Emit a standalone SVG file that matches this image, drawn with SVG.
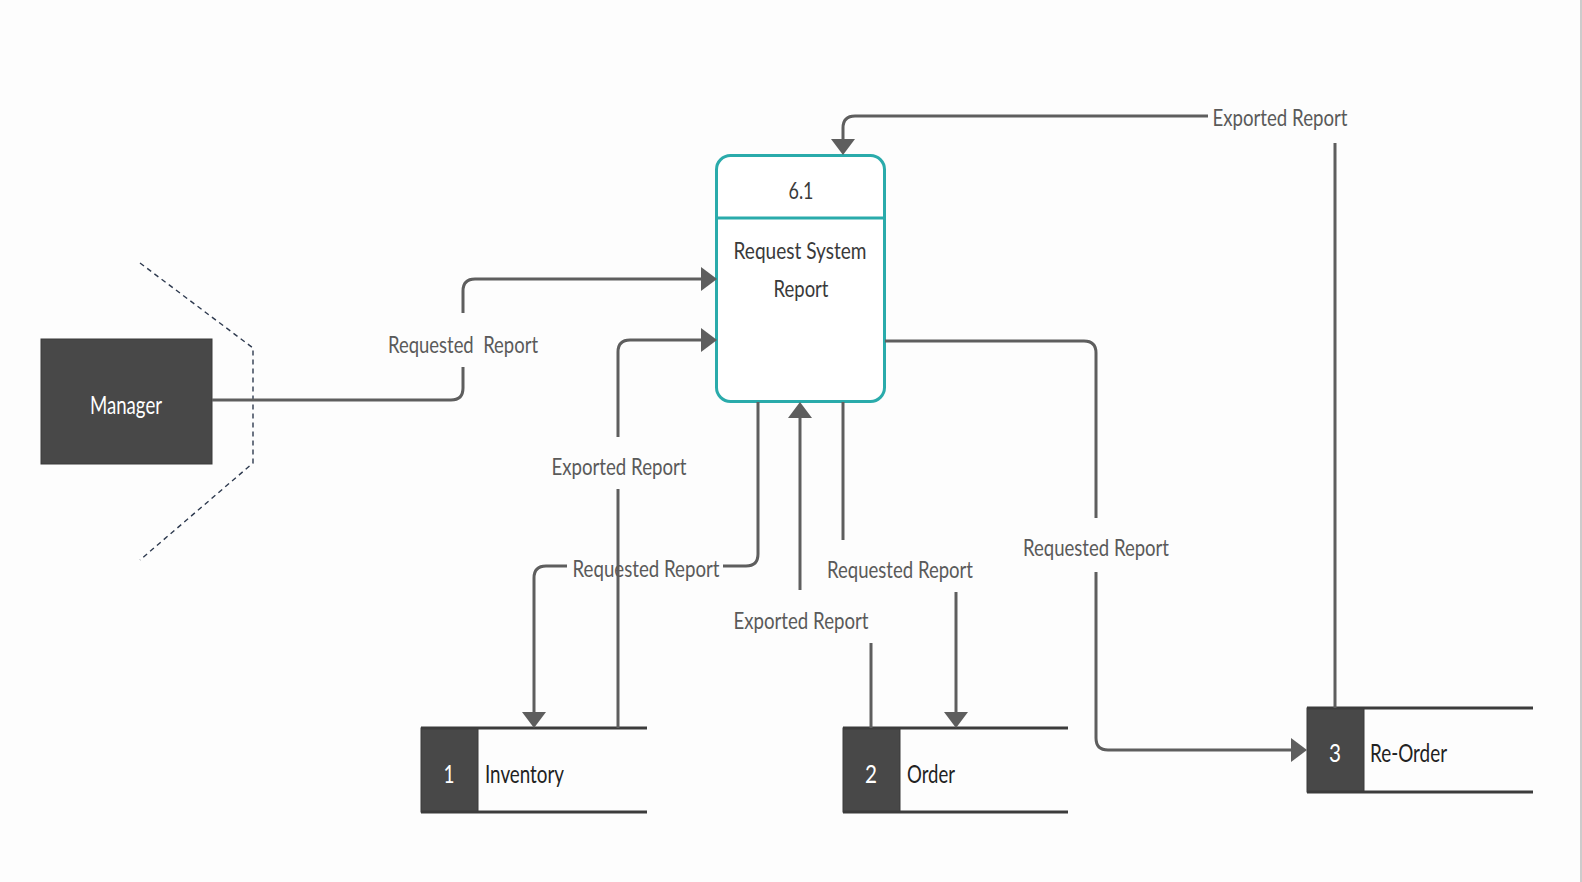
<svg xmlns="http://www.w3.org/2000/svg" width="1582" height="882" viewBox="0 0 1582 882">
<defs>
<style>
.bg{fill:#fdfdfd}
.conn{fill:none;stroke:#5e5e5e;stroke-width:3}
.lbl{font-family:Lato,"Open Sans","Liberation Sans",sans-serif;font-size:24px;fill:#5a5a5a;text-anchor:middle}
.ptxt{font-family:Lato,"Open Sans","Liberation Sans",sans-serif;font-size:24px;fill:#3a3a3a;text-anchor:middle}
.dark{fill:#484848;stroke:#3a3a3a;stroke-width:1}
.wtxt{font-family:Lato,"Open Sans","Liberation Sans",sans-serif;font-size:25px;fill:#ffffff;text-anchor:middle}
.stxt{font-family:Lato,"Open Sans","Liberation Sans",sans-serif;font-size:25px;fill:#222222}
.sline{stroke:#3c3c3c;stroke-width:3}
</style>
<marker id="arr" markerUnits="userSpaceOnUse" markerWidth="18" markerHeight="26" refX="0" refY="12" orient="auto" overflow="visible">
<path d="M0,0 L16,12 L0,24 Z" fill="#5e5e5e"/>
</marker>
</defs>
<rect class="bg" x="0" y="0" width="1582" height="882"/>
<rect x="1580" y="0" width="2" height="882" fill="#cccccc"/>

<g id="manager">
<rect class="dark" x="41" y="339" width="171" height="125"/>
<text class="wtxt" x="126" y="414" textLength="72" lengthAdjust="spacingAndGlyphs">Manager</text>
<polyline points="140,263 253,348 253,463 140,560" fill="none" stroke="#2e3a4f" stroke-width="1.4" stroke-dasharray="5,4"/>
</g>

<g id="process-6-1">
<rect x="716.5" y="155.5" width="168" height="246" rx="14" fill="#ffffff" stroke="#2aabab" stroke-width="3"/>
<line x1="716.5" y1="218" x2="884.5" y2="218" stroke="#2aabab" stroke-width="3"/>
<text class="ptxt" x="801" y="199" font-size="23" textLength="25" lengthAdjust="spacingAndGlyphs">6.1</text>
<text class="ptxt" x="800" y="259" textLength="133" lengthAdjust="spacingAndGlyphs">Request System</text>
<text class="ptxt" x="801" y="297" textLength="55" lengthAdjust="spacingAndGlyphs">Report</text>
</g>

<g id="store-1">
<rect class="dark" x="421" y="728" width="57" height="84"/>
<line class="sline" x1="421" y1="728" x2="647" y2="728"/>
<line class="sline" x1="421" y1="812" x2="647" y2="812"/>
<text class="wtxt" x="449" y="783" textLength="11" lengthAdjust="spacingAndGlyphs">1</text>
<text class="stxt" x="485" y="783" textLength="79" lengthAdjust="spacingAndGlyphs">Inventory</text>
</g>

<g id="store-2">
<rect class="dark" x="843" y="728" width="57" height="84"/>
<line class="sline" x1="843" y1="728" x2="1068" y2="728"/>
<line class="sline" x1="843" y1="812" x2="1068" y2="812"/>
<text class="wtxt" x="871" y="783" textLength="12" lengthAdjust="spacingAndGlyphs">2</text>
<text class="stxt" x="907" y="783" textLength="48" lengthAdjust="spacingAndGlyphs">Order</text>
</g>

<g id="store-3">
<rect class="dark" x="1307" y="708" width="57" height="84"/>
<line class="sline" x1="1307" y1="708" x2="1533" y2="708"/>
<line class="sline" x1="1307" y1="792" x2="1533" y2="792"/>
<text class="wtxt" x="1335" y="762" textLength="12" lengthAdjust="spacingAndGlyphs">3</text>
<text class="stxt" x="1370" y="762" textLength="77" lengthAdjust="spacingAndGlyphs">Re-Order</text>
</g>

<g id="connectors">
<path class="conn" d="M212,400 H451 Q463,400 463,388 V367"/>
<path class="conn" d="M463,313 V291 Q463,279 475,279 H701" marker-end="url(#arr)"/>
<text class="lbl" x="463" y="353" textLength="150" lengthAdjust="spacingAndGlyphs" xml:space="preserve">Requested  Report</text>

<path class="conn" d="M618,728 V489"/>
<path class="conn" d="M618,437 V352 Q618,340 630,340 H701" marker-end="url(#arr)"/>
<text class="lbl" x="619" y="475" textLength="135" lengthAdjust="spacingAndGlyphs">Exported Report</text>

<path class="conn" d="M758,402 V554 Q758,566 746,566 H723"/>
<path class="conn" d="M567,566 H546 Q534,566 534,578 V712" marker-end="url(#arr)"/>
<text class="lbl" x="646" y="577" textLength="147" lengthAdjust="spacingAndGlyphs">Requested Report</text>

<path class="conn" d="M871,728 V643"/>
<path class="conn" d="M800,590 V418" marker-end="url(#arr)"/>
<text class="lbl" x="801" y="629" textLength="135" lengthAdjust="spacingAndGlyphs">Exported Report</text>

<path class="conn" d="M843,402 V540"/>
<path class="conn" d="M956,592 V712" marker-end="url(#arr)"/>
<text class="lbl" x="900" y="578" textLength="146" lengthAdjust="spacingAndGlyphs">Requested Report</text>

<path class="conn" d="M885,341 H1084 Q1096,341 1096,353 V518"/>
<path class="conn" d="M1096,572 V738 Q1096,750 1108,750 H1291" marker-end="url(#arr)"/>
<text class="lbl" x="1096" y="556" textLength="146" lengthAdjust="spacingAndGlyphs">Requested Report</text>

<path class="conn" d="M1335,708 V143"/>
<path class="conn" d="M1208,116 H855 Q843,116 843,128 V139" marker-end="url(#arr)"/>
<text class="lbl" x="1280" y="126" textLength="135" lengthAdjust="spacingAndGlyphs">Exported Report</text>
</g>
</svg>
